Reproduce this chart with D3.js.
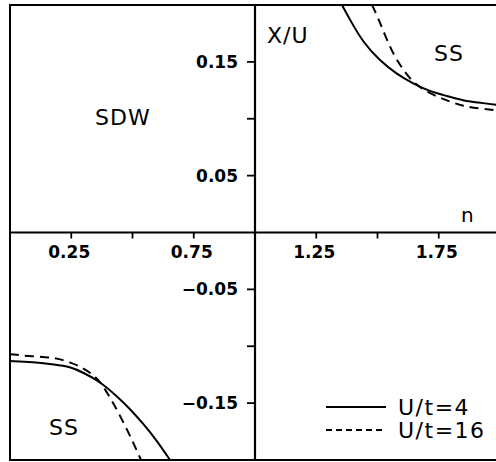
<!DOCTYPE html>
<html>
<head>
<meta charset="utf-8">
<script src="https://cdn.jsdelivr.net/npm/d3@7"></script>
<style>
  body { margin: 0; background: #fff; }
  svg { display: block; font-family: "DejaVu Sans", sans-serif; }
</style>
</head>
<body>
<svg id="chart" width="496" height="462"></svg>
<script>
// filling n (x) and chemical potential X/U (y)
const upperSolidN = [1.355, 1.388, 1.441, 1.510, 1.580, 1.645, 1.714, 1.784, 1.849, 1.918, 2.0];
const upperSolidY = [0.200, 0.187, 0.167, 0.151, 0.139, 0.131, 0.124, 0.120, 0.116, 0.114, 0.112];
const upperDashN = [1.478, 1.502, 1.535, 1.571, 1.612, 1.649, 1.714, 1.784, 1.849, 1.918, 2.0];
const upperDashY = [0.200, 0.189, 0.171, 0.154, 0.141, 0.131, 0.122, 0.116, 0.111, 0.109, 0.107];

const lowerSolidN = [0.0, 0.094, 0.184, 0.245, 0.298, 0.367, 0.437, 0.490, 0.543, 0.600, 0.653];
const lowerSolidY = [-0.113, -0.114, -0.116, -0.118, -0.123, -0.131, -0.144, -0.155, -0.168, -0.183, -0.200];
const lowerDashN = [0.0, 0.094, 0.184, 0.245, 0.298, 0.339, 0.367, 0.400, 0.437, 0.482, 0.518, 0.535];
const lowerDashY = [-0.107, -0.109, -0.110, -0.114, -0.119, -0.125, -0.131, -0.142, -0.156, -0.175, -0.192, -0.200];

const xTicks = [0.25, 0.5, 0.75, 1.25, 1.5, 1.75];
const xTickLabels = ["0.25", "", "0.75", "1.25", "", "1.75"];
const yTicks = [0.15, 0.1, 0.05, -0.05, -0.1, -0.15];
const yTickLabels = ["0.15", "", "0.05", "\u22120.05", "", "\u22120.15"];

const svg = d3.select("#chart");
const x = d3.scaleLinear().domain([0, 2]).range([10, 500]);
const y = d3.scaleLinear().domain([-0.2, 0.2]).range([460, 5]);

svg.append("defs").append("clipPath").attr("id", "frame")
  .append("rect")
  .attr("x", x(0)).attr("y", y(0.2))
  .attr("width", x(2) - x(0)).attr("height", y(-0.2) - y(0.2));

// outer frame
svg.append("rect")
  .attr("x", x(0)).attr("y", y(0.2))
  .attr("width", x(2) - x(0)).attr("height", y(-0.2) - y(0.2))
  .attr("fill", "none").attr("stroke", "#000").attr("stroke-width", 2);

// axes through the middle
svg.append("line")
  .attr("x1", x(0)).attr("x2", x(2)).attr("y1", y(0)).attr("y2", y(0))
  .attr("stroke", "#000").attr("stroke-width", 2.2);
svg.append("line")
  .attr("x1", x(1)).attr("x2", x(1)).attr("y1", y(0.2)).attr("y2", y(-0.2))
  .attr("stroke", "#000").attr("stroke-width", 2.2);

// x ticks hang below the horizontal axis
const xt = svg.append("g").selectAll("g").data(xTicks).enter().append("g");
xt.append("line")
  .attr("x1", d => x(d)).attr("x2", d => x(d))
  .attr("y1", y(0)).attr("y2", y(0) + 6)
  .attr("stroke", "#000").attr("stroke-width", 1.8);
xt.append("text")
  .attr("x", d => x(d) - 2).attr("y", y(0) + 25)
  .attr("text-anchor", "middle")
  .attr("font-size", 17)
  .attr("font-weight", "bold")
  .text((d, i) => xTickLabels[i]);

// y ticks point left from the vertical axis
const yt = svg.append("g").selectAll("g").data(yTicks).enter().append("g");
yt.append("line")
  .attr("x1", x(1) - 8).attr("x2", x(1))
  .attr("y1", d => y(d)).attr("y2", d => y(d))
  .attr("stroke", "#000").attr("stroke-width", 1.8);
yt.append("text")
  .attr("x", x(1) - 17).attr("y", d => y(d))
  .attr("dy", "0.36em")
  .attr("text-anchor", "end")
  .attr("font-size", 17)
  .attr("font-weight", "bold")
  .text((d, i) => yTickLabels[i]);

// curves
const line = d3.line()
  .x(d => x(d[0])).y(d => y(d[1]))
  .curve(d3.curveBasis);

const curves = [
  { n: upperSolidN, v: upperSolidY, dash: null },
  { n: upperDashN, v: upperDashY, dash: "9,6" },
  { n: lowerSolidN, v: lowerSolidY, dash: null },
  { n: lowerDashN, v: lowerDashY, dash: "9,6" }
];

svg.append("g").attr("clip-path", "url(#frame)")
  .selectAll("path").data(curves).enter().append("path")
  .attr("d", c => line(c.n.map((d, i) => [d, c.v[i]])))
  .attr("fill", "none")
  .attr("stroke", "#000")
  .attr("stroke-width", 2)
  .attr("stroke-dasharray", c => c.dash);

// region labels
const labels = [
  { t: "SDW", px: 95, py: 117 },
  { t: "X/U", px: 267, py: 35 },
  { t: "SS", px: 434, py: 53 },
  { t: "SS", px: 49, py: 427 }
];
svg.append("g").selectAll("text").data(labels).enter().append("text")
  .attr("x", d => d.px).attr("y", d => d.py)
  .attr("dy", "0.36em")
  .attr("font-size", 22)
  .attr("letter-spacing", 1)
  .text(d => d.t);

svg.append("text")
  .attr("x", 461).attr("y", 222)
  .attr("font-size", 20)
  .text("n");

// legend
const legend = [
  { t: "U/t=4", dash: null, py: 407 },
  { t: "U/t=16", dash: "6,4", py: 430 }
];
const lg = svg.append("g").selectAll("g").data(legend).enter().append("g");
lg.append("line")
  .attr("x1", 326).attr("x2", 386)
  .attr("y1", d => d.py).attr("y2", d => d.py)
  .attr("stroke", "#000").attr("stroke-width", 2)
  .attr("stroke-dasharray", d => d.dash);
lg.append("text")
  .attr("x", 398).attr("y", d => d.py)
  .attr("dy", "0.36em")
  .attr("font-size", 22)
  .attr("letter-spacing", 1.5)
  .text(d => d.t);
</script>
</body>
</html>
